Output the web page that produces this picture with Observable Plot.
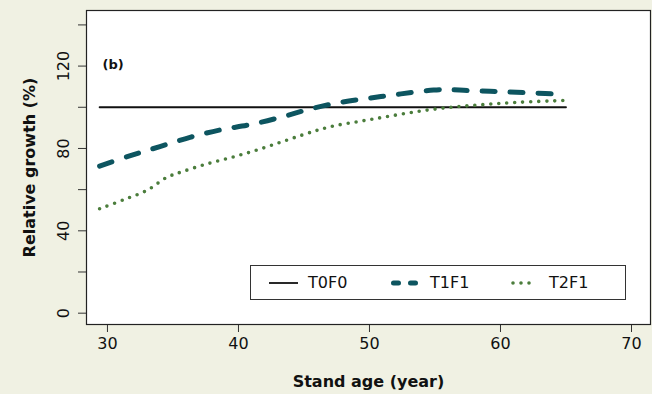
<!DOCTYPE html>
<html>
<head>
<meta charset="utf-8">
<script src="https://cdn.jsdelivr.net/npm/d3@7"></script>
<script src="https://cdn.jsdelivr.net/npm/@observablehq/plot@0.6"></script>
<style>
  html, body { margin: 0; padding: 0; background: #f0f1e3; }
  #wrap { position: relative; width: 652px; height: 394px; font-family: "DejaVu Sans", sans-serif; }
  #legend { position: absolute; left: 250px; top: 265px; width: 374px; height: 33px; background: #fff; border: 1px solid #333; }
  .item { position: absolute; top: 0; height: 33px; display: flex; align-items: center; font-size: 16px; color: #111; }
  .item svg { margin-right: 9px; }
</style>
</head>
<body>
<div id="wrap"></div>
<script>
const seriesNames = ["T0F0", "T1F1", "T2F1"];
const seriesColors = ["#111111", "#0d5560", "#4b7d3c"];

const t0Age = [29.4, 65];
const t0Val = [100, 100];

const t1Age = [29.4, 31.75, 34.0, 36.3, 38.6, 40.9, 43.2, 45.5, 47.8, 50.1, 52.4, 54.9, 56.0, 57.5, 59.8, 62.3, 65.0];
const t1Val = [71.4, 76.5, 80.9, 85.4, 89.0, 91.6, 95.1, 99.2, 102.4, 104.5, 106.5, 108.4, 108.6, 108.1, 107.6, 107.0, 106.2];

const t2Age = [29.4, 31.2, 33.0, 34.55, 35.8, 37.6, 39.5, 41.3, 43.2, 44.9, 46.1, 47.4, 49.2, 51.1, 53.6, 56.2, 58.7, 61.3, 64.4, 65.0];
const t2Val = [50.7, 55.0, 59.6, 66.0, 68.9, 72.5, 75.7, 79.0, 83.0, 86.6, 89.0, 91.1, 93.1, 95.2, 97.9, 100.0, 101.3, 102.4, 103.2, 103.4];

const xTicks = [30, 40, 50, 60, 70];
const yTicks = [0, 20, 40, 60, 80, 100, 120, 140];
const yLabels = [0, 40, 80, 120];

const xTitle = "Stand age (year)";
const yTitle = "Relative growth (%)";
const panelLabel = "(b)";

const toRows = (ages, vals) => ages.map((a, i) => ({age: a, val: vals[i]}));
const t0 = toRows(t0Age, t0Val);
const t1 = toRows(t1Age, t1Val);
const t2 = toRows(t2Age, t2Val);

const font = "'DejaVu Sans', sans-serif";

const chart = Plot.plot({
  width: 652,
  height: 394,
  marginLeft: 86,
  marginRight: 2,
  marginTop: 10,
  marginBottom: 70,
  style: {background: "transparent", fontFamily: font, color: "#111"},
  x: {domain: [28.4, 71.45]},
  y: {domain: [-5.5, 147]},
  marks: [
    Plot.frame({fill: "white"}),
    Plot.axisX({ticks: xTicks, tickSize: 8, tickPadding: 5, fontSize: 16, label: null, tickFormat: d => String(d), stroke: "#333"}),
    Plot.axisY({ticks: yTicks, tickSize: 8, tickFormat: () => "", label: null, stroke: "#333"}),
    Plot.text(yLabels, {y: d => d, text: d => String(d), frameAnchor: "left", dx: -23, rotate: -90, textAnchor: "middle", lineAnchor: "middle", fontSize: 16, fill: "#111"}),
    Plot.line(t0, {x: "age", y: "val", stroke: seriesColors[0], strokeWidth: 1.8}),
    Plot.line(t1, {x: "age", y: "val", stroke: seriesColors[1], strokeWidth: 5, strokeDasharray: "13 15", strokeLinecap: "round", curve: "catmull-rom"}),
    Plot.line(t2, {x: "age", y: "val", stroke: seriesColors[2], strokeWidth: 3.6, strokeDasharray: "0 8", strokeLinecap: "round", curve: "catmull-rom"}),
    Plot.frame({stroke: "#222", strokeWidth: 1.2}),
    Plot.text([panelLabel], {frameAnchor: "top-left", dx: 16, dy: 54, textAnchor: "start", lineAnchor: "middle", fontSize: 13, fontWeight: "bold", fill: "#111"}),
    Plot.text([xTitle], {frameAnchor: "bottom", dy: 57, lineAnchor: "middle", fontSize: 16, fontWeight: "bold", fill: "#111"}),
    Plot.text([yTitle], {frameAnchor: "left", dx: -57, rotate: -90, textAnchor: "middle", lineAnchor: "middle", fontSize: 16, fontWeight: "bold", fill: "#111"})
  ]
});

const wrap = document.getElementById("wrap");
wrap.appendChild(chart);

const legend = document.createElement("div");
legend.id = "legend";
const samples = [
  {left: 18, dash: null, w: 1.8, cap: "butt", x1: 0, x2: 29},
  {left: 140, dash: "5 12", w: 5, cap: "round", x1: 2.5, x2: 24.5},
  {left: 259, dash: "0 8", w: 3.6, cap: "round", x1: 3, x2: 27}
];
seriesNames.forEach((name, i) => {
  const s = samples[i];
  const item = document.createElement("div");
  item.className = "item";
  item.style.left = s.left + "px";
  item.innerHTML = `<svg width="30" height="10"><line x1="${s.x1}" y1="5" x2="${s.x2}" y2="5" stroke="${seriesColors[i]}" stroke-width="${s.w}" stroke-linecap="${s.cap}" ${s.dash ? `stroke-dasharray="${s.dash}"` : ""}/></svg><span>${name}</span>`;
  legend.appendChild(item);
});
wrap.appendChild(legend);
</script>
</body>
</html>
